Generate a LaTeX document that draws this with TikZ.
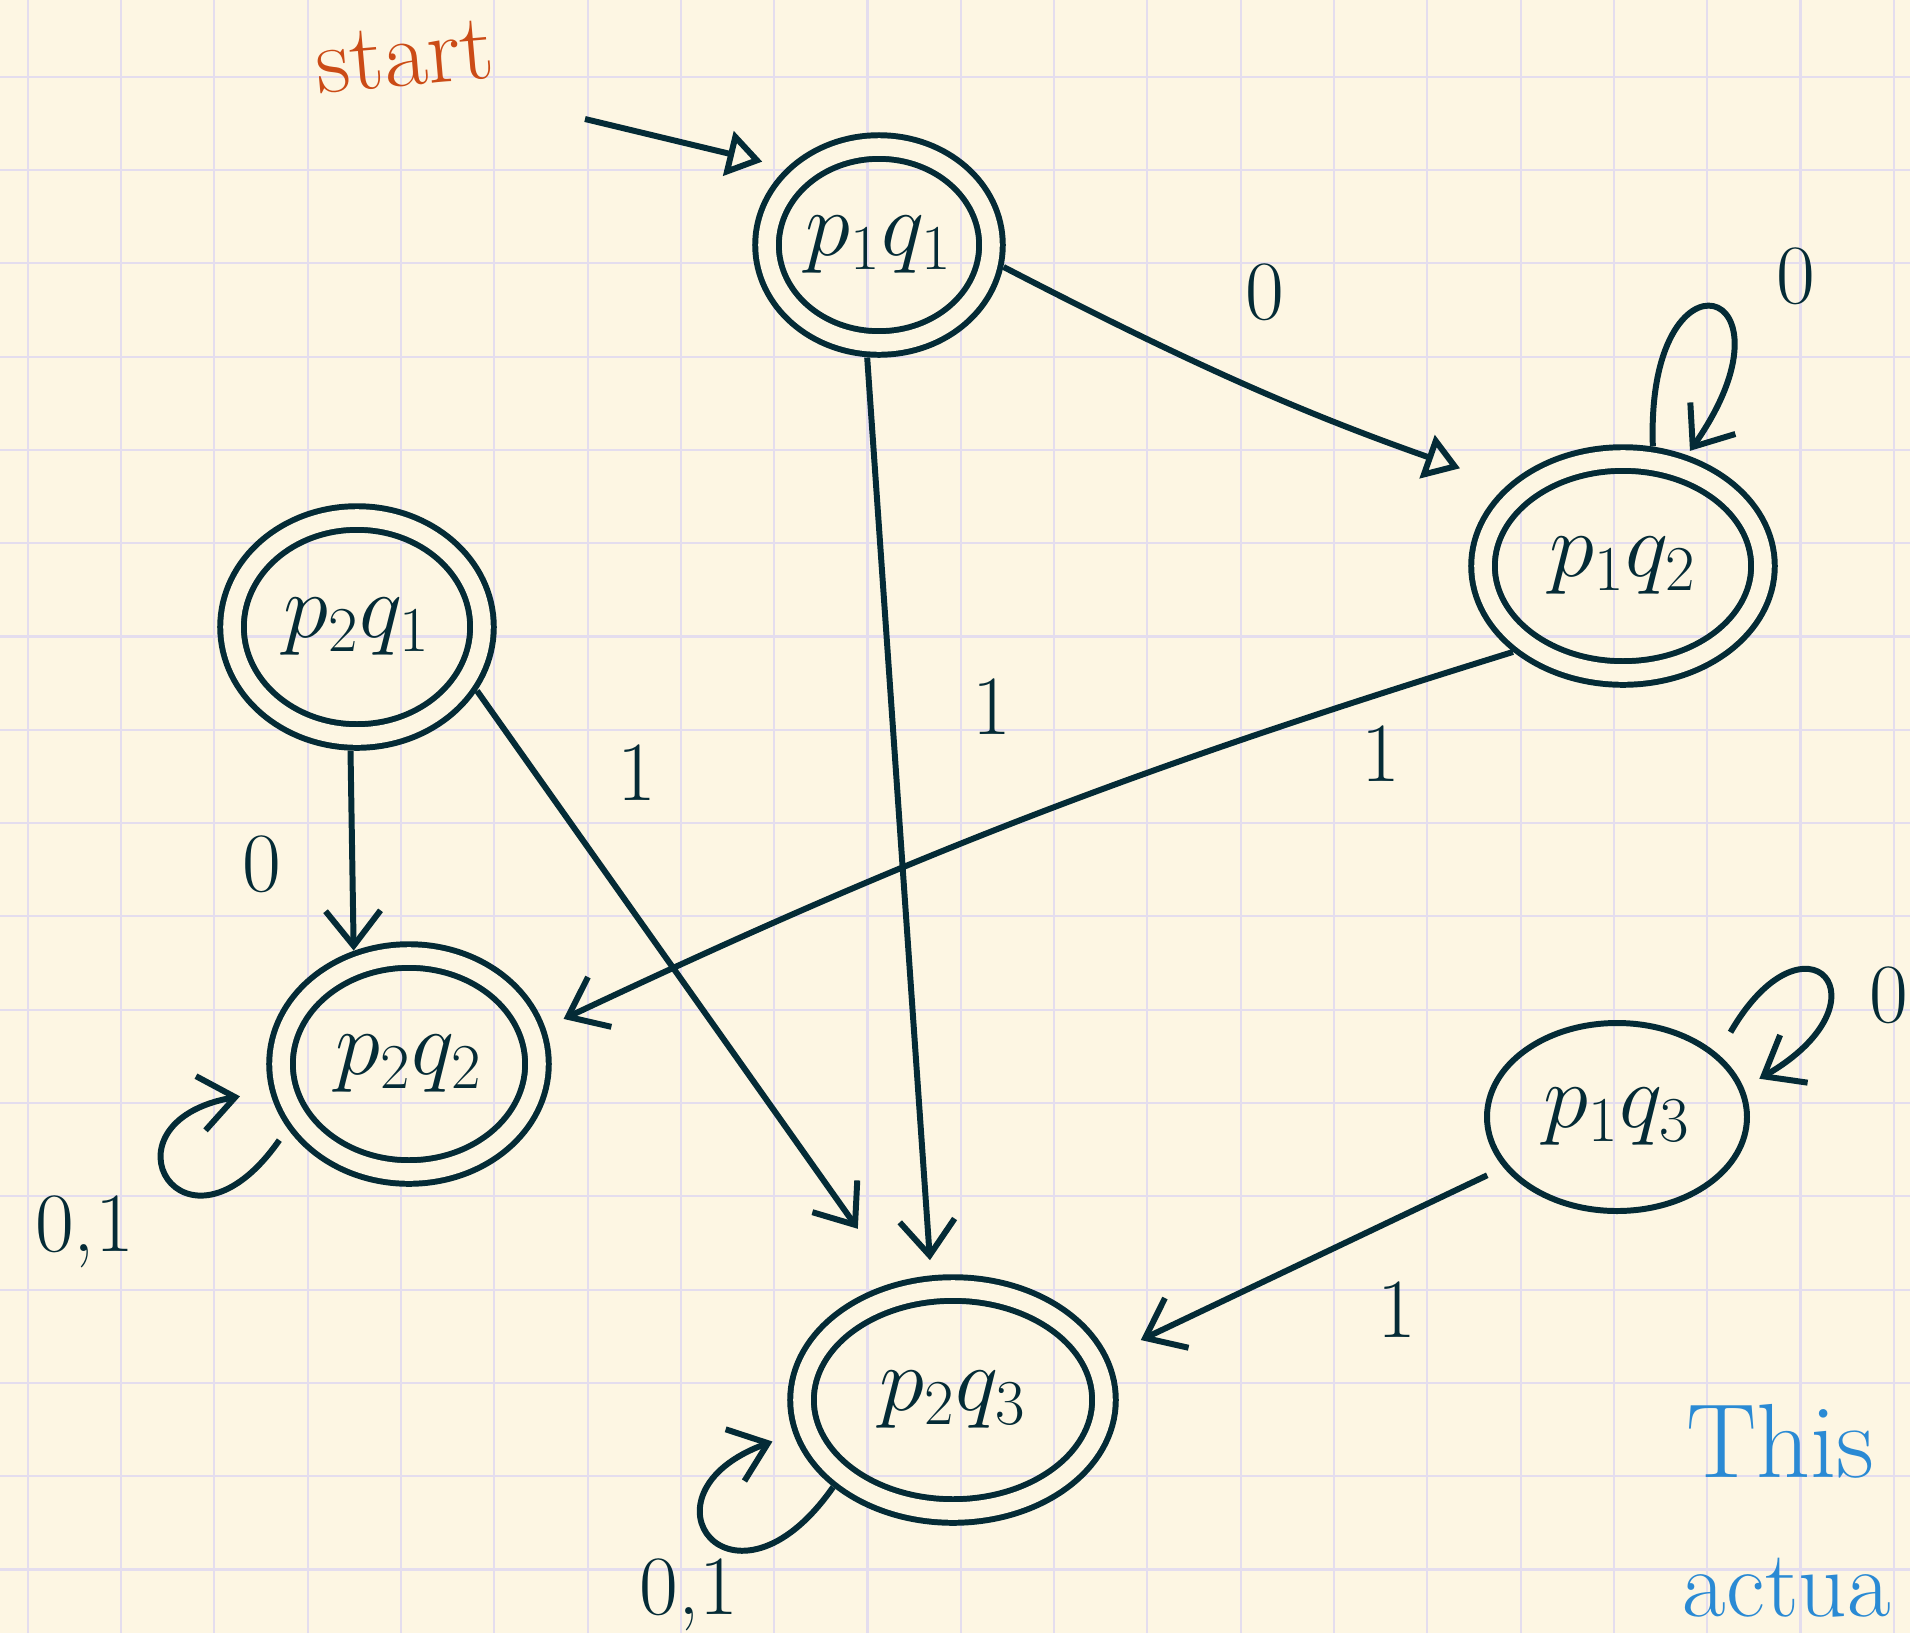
\RequirePackage{fix-cm}
\documentclass[tikz,border=0pt]{standalone}
\usepackage{xcolor}
\definecolor{paper}{HTML}{FDF6E3}
\definecolor{gridline}{HTML}{E4DDEE}
\definecolor{ink}{HTML}{042B36}
\definecolor{startred}{HTML}{CB4B16}
\definecolor{noteblue}{HTML}{2A8AD4}
\usetikzlibrary{shapes.geometric, arrows.meta, positioning}

\begin{document}
\begin{tikzpicture}[
    >={Straight Barb[length=3.5mm,width=5.5mm]},
    color=ink, line width=1.7pt,
    state/.style={ellipse, draw=ink, line width=1.7pt, inner sep=0pt, font=\fontsize{26}{30}\selectfont},
    accept/.style={state, double=paper, double distance=5pt, outer sep=0.15cm},
    lbl/.style={font=\fontsize{24}{28}\selectfont, inner sep=1pt},
    tri/.style={-{Triangle[open,length=3.5mm,width=4.5mm]}},
    gridrule/.style={draw=gridline, line width=0.6pt},
]
% ── Paper and grid ──
\path[use as bounding box, fill=paper] (0,0) rectangle (19.10,-16.33);
\foreach \i in {0,...,20} \draw[gridrule] ({0.278+0.933*\i},0) -- ++(0,-16.33);
\foreach \j in {0,...,16} \draw[gridrule] (0,{-0.767-0.933*\j}) -- ++(19.10,0);

% ── States ──
\node[accept, minimum width=2.24cm, minimum height=1.96cm] (p1q1) at (8.79,-2.45) {$p_1q_1$};
\node[accept, minimum width=2.80cm, minimum height=2.14cm] (p1q2) at (16.23,-5.66) {$p_1q_2$};
\node[accept, minimum width=2.50cm, minimum height=2.18cm] (p2q1) at (3.57,-6.27) {$p_2q_1$};
\node[accept, minimum width=2.56cm, minimum height=2.16cm] (p2q2) at (4.09,-10.64) {$p_2q_2$};
\node[state, minimum width=2.60cm, minimum height=1.88cm] (p1q3) at (16.17,-11.17) {$p_1q_3$};
\node[accept, minimum width=3.02cm, minimum height=2.22cm] (p2q3) at (9.53,-14.00) {$p_2q_3$};

% ── Start ──
\node[font=\fontsize{27}{30}\selectfont, text=startred, rotate=5] (starttext) at (4.05,-0.57) {start};
\coordinate (in) at (5.85,-1.19);
\draw[tri, shorten >=2.5mm] (in) -- (p1q1.140);

% ── Transitions ──
\draw[tri, shorten >=5mm] (p1q1.-10) to[bend right=4] node[lbl, pos=.53, above=6.5mm] {0} (p1q2.145);
\draw[->, shorten >=1.5mm] (p1q1.264) -- node[lbl, pos=.38, right=7.5mm] {1} (p2q3.100);
\draw[->, shorten >=2mm] (p1q2.218) to[bend right=4] node[lbl, pos=.12, below=2.5mm] {1} (p2q2.15);
\draw[->] (p2q1.267) -- node[lbl, pos=.57, left=6.5mm] {0} (p2q2.116);
\draw[->, shorten >=6.5mm] (p2q1.-28) -- node[lbl, pos=.22, above right=1.4mm and 4.2mm] {1} (p2q3.116);
\draw[->, shorten <=1.8mm, shorten >=3.6mm] (p1q3.204) -- node[lbl, pos=.27, below=5.7mm] {1} (p2q3.16);

% ── Self loops ──
\draw[->, shorten >=0.5mm] (p1q2.76) to[out=92, in=55, distance=2.1cm] node[lbl, pos=.5, right=5.8mm, yshift=3.1mm] {0} (p1q2.60);
\draw[->, shorten <=2.5mm, shorten >=1.8mm] (p1q3.32) to[out=60, in=30, distance=1.75cm] node[lbl, pos=.5, right=4.2mm, yshift=-1.4mm] {0} (p1q3.13);
\draw[->, shorten <=1.4mm, shorten >=3mm] (p2q2.208) to[out=235, in=190, distance=1.8cm] node[lbl, pos=.5, below left=1.2mm and 3.3mm] {0,1} (p2q2.191);
\draw[->, shorten >=2.2mm] (p2q3.216) to[out=235, in=200, distance=1.75cm] node[lbl, pos=.5, below=1.5mm, xshift=-2.5mm] {0,1} (p2q3.192);

% ── Margin note ──
\node[font=\fontsize{30}{34}\selectfont, text=noteblue, anchor=base west, inner sep=0pt] (note1) at (16.83,-14.77) {This};
\node[font=\fontsize{27}{31}\selectfont, text=noteblue, anchor=base west, inner sep=0pt] (note2) at (16.80,-16.16) {actua};
\end{tikzpicture}
\end{document}
